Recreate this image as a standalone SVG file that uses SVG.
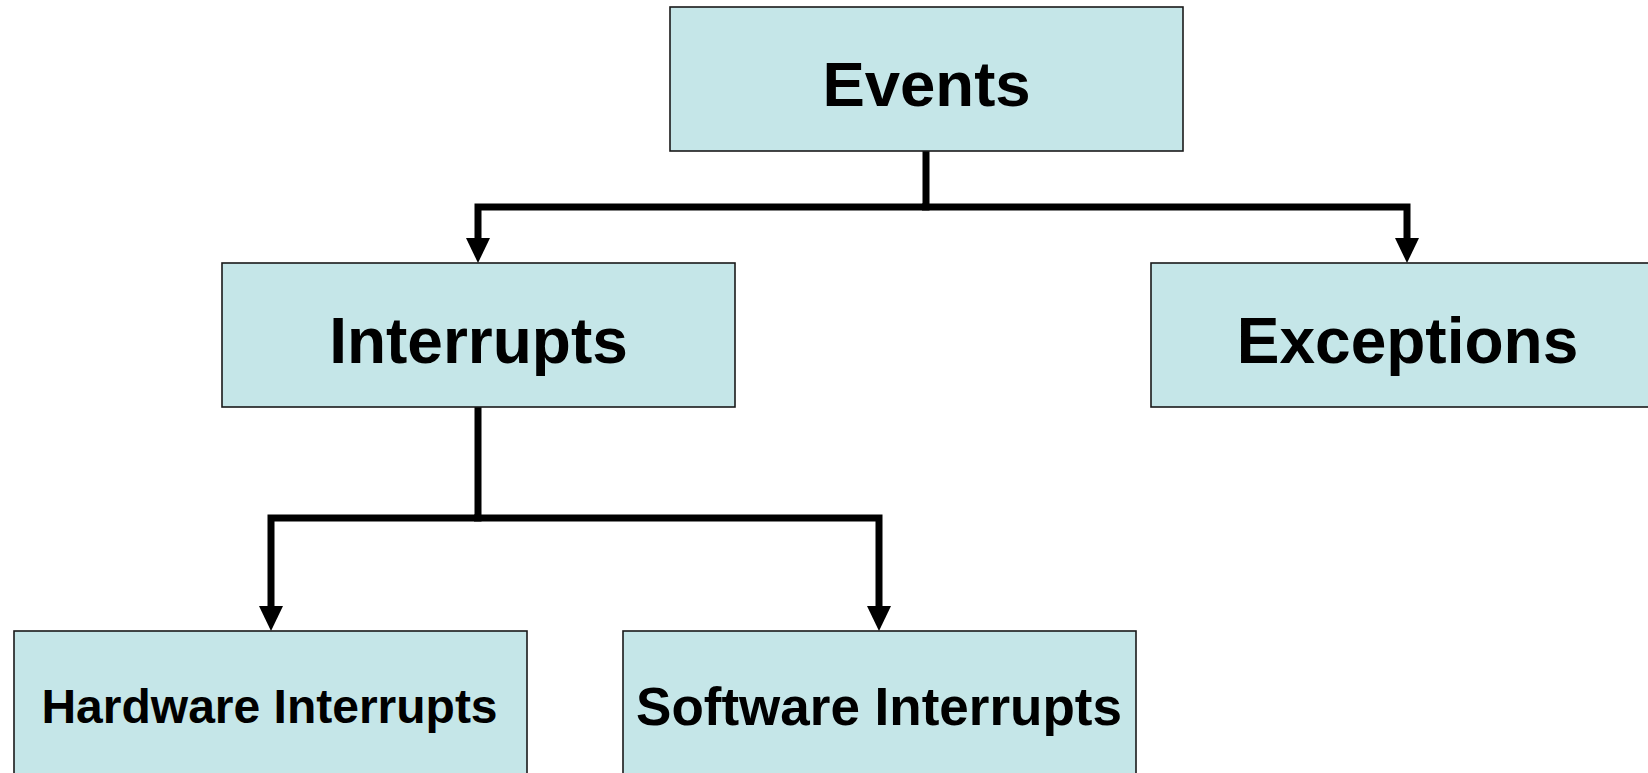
<svg xmlns="http://www.w3.org/2000/svg" width="1648" height="773" viewBox="0 0 1648 773">
  <style>
    .box { fill: #c5e6e8; stroke: #1a1a1a; stroke-width: 1.6; }
    .label { font-family: "Liberation Sans", Arial, sans-serif; font-weight: bold; fill: #000; text-anchor: middle; }
    .wire { fill: none; stroke: #000; stroke-width: 7; stroke-linejoin: miter; stroke-linecap: butt; }
  </style>
  <defs>
    <marker id="head" viewBox="0 0 25 24" refX="0" refY="12" markerWidth="25" markerHeight="24" markerUnits="userSpaceOnUse" orient="auto">
      <path d="M0,0 L25,12 L0,24 Z" fill="#000"/>
    </marker>
  </defs>
  <rect width="1648" height="773" fill="#fff"/>

  <g id="connectors">
    <path class="wire" d="M926,151 V207 H478 V238" marker-end="url(#head)"/>
    <path class="wire" d="M922,207 H1407 V238" marker-end="url(#head)"/>
    <path class="wire" d="M478,407 V518 H271 V606" marker-end="url(#head)"/>
    <path class="wire" d="M474,518 H879 V606" marker-end="url(#head)"/>
  </g>

  <g id="events">
    <rect class="box" x="670" y="7" width="513" height="144"/>
    <text class="label" x="926.5" y="106" font-size="63.5">Events</text>
  </g>
  <g id="interrupts">
    <rect class="box" x="222" y="263" width="513" height="144"/>
    <text class="label" x="478.5" y="363" font-size="64">Interrupts</text>
  </g>
  <g id="exceptions">
    <rect class="box" x="1151" y="263" width="513" height="144"/>
    <text class="label" x="1407.5" y="363" font-size="64">Exceptions</text>
  </g>
  <g id="hardware-interrupts">
    <rect class="box" x="14" y="631" width="513" height="160"/>
    <text class="label" x="269.5" y="723" font-size="48">Hardware Interrupts</text>
  </g>
  <g id="software-interrupts">
    <rect class="box" x="623" y="631" width="513" height="160"/>
    <text class="label" x="879" y="725" font-size="53">Software Interrupts</text>
  </g>
</svg>
